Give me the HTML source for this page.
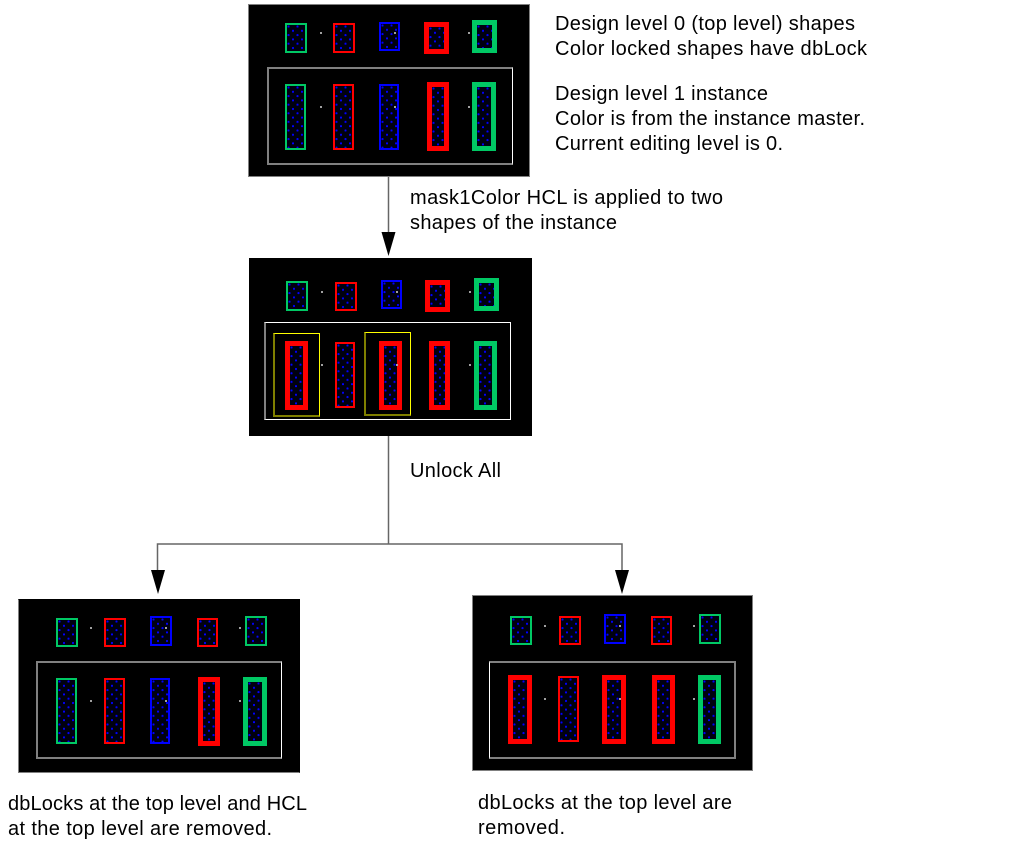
<!DOCTYPE html>
<html><head><meta charset="utf-8">
<style>
html,body{margin:0;padding:0;background:#fff}
#p{position:relative;width:1013px;height:857px;overflow:hidden;background:#fff}
.k{position:absolute;background:#000;box-sizing:border-box;border:1px solid #808080}
.r,.i,.d{position:absolute;box-sizing:border-box}
.r{border-style:solid;background-color:#000010;
background-image:radial-gradient(circle at 1.5px 1.5px,#00f 1px,transparent 1.2px),radial-gradient(circle at 6px 5.8px,#00f 1px,transparent 1.2px);
background-size:9px 8.6px}
.i{border-style:solid;border-width:2px 1px 2px 2px;background:transparent}
.d{width:2px;height:2px;background:#a0a0a0}
.g{border-color:#00c864}.e{border-color:#f00}.b{border-color:#00f}
.t{border-width:2px}.w{border-width:5px}
svg{position:absolute;left:0;top:0}
text{font-family:"Liberation Sans",sans-serif;font-size:20px;fill:#000}
</style></head><body><div id="p">

<div class="k" style="left:248px;top:4px;width:282px;height:173px"></div>
<div class="r g t" style="left:285px;top:23px;width:22px;height:30px"></div>
<div class="r e t" style="left:333px;top:23px;width:22px;height:30px"></div>
<div class="r b t" style="left:379px;top:22px;width:21px;height:29px"></div>
<div class="r e w" style="left:424px;top:22px;width:25px;height:32px"></div>
<div class="r g w" style="left:472px;top:20px;width:25px;height:33px"></div>
<div class="i" style="left:267px;top:67px;width:246px;height:98px;border-color:#808080 #fff #808080 #808080"></div>
<div class="r g t" style="left:285px;top:84px;width:21px;height:66px"></div>
<div class="r e t" style="left:333px;top:84px;width:21px;height:66px"></div>
<div class="r b t" style="left:379px;top:84px;width:20px;height:66px"></div>
<div class="r e w" style="left:427px;top:82px;width:22px;height:69px"></div>
<div class="r g w" style="left:472px;top:82px;width:24px;height:69px"></div>
<div class="d" style="left:320px;top:32px"></div><div class="d" style="left:394px;top:32px"></div><div class="d" style="left:468px;top:32px"></div>
<div class="d" style="left:320px;top:106px"></div><div class="d" style="left:394px;top:106px"></div><div class="d" style="left:468px;top:106px"></div>

<div class="k" style="left:249px;top:258px;width:283px;height:178px;border-color:#000"></div>
<div class="r g t" style="left:286px;top:281px;width:22px;height:30px"></div>
<div class="r e t" style="left:335px;top:282px;width:22px;height:29px"></div>
<div class="r b t" style="left:381px;top:280px;width:21px;height:29px"></div>
<div class="r e w" style="left:425px;top:280px;width:25px;height:32px"></div>
<div class="r g w" style="left:474px;top:278px;width:25px;height:33px"></div>
<div class="i" style="left:264px;top:322px;width:247px;height:98px;border-width:1px 1px 1px 2px;border-color:#fff #fff #fff #808080"></div>
<div class="i" style="left:273px;top:333px;width:47px;height:84px;border-width:1px 1px 2px 2px;border-color:#ff0 #ff0 #808000 #808000"></div>
<div class="i" style="left:364px;top:332px;width:47px;height:84px;border-width:1px 1px 2px 2px;border-color:#ff0 #ff0 #808000 #808000"></div>
<div class="r e w" style="left:285px;top:341px;width:23px;height:69px"></div>
<div class="r e t" style="left:335px;top:342px;width:20px;height:66px"></div>
<div class="r e w" style="left:379px;top:341px;width:23px;height:69px"></div>
<div class="r e w" style="left:429px;top:341px;width:21px;height:69px"></div>
<div class="r g w" style="left:474px;top:341px;width:23px;height:69px"></div>
<div class="d" style="left:321px;top:291px"></div><div class="d" style="left:396px;top:291px"></div><div class="d" style="left:469px;top:291px"></div>
<div class="d" style="left:321px;top:364px"></div><div class="d" style="left:396px;top:364px"></div><div class="d" style="left:469px;top:364px"></div>

<div class="k" style="left:18px;top:599px;width:282px;height:174px;border-color:#000 #000 #808080 #808080"></div>
<div class="r g t" style="left:56px;top:618px;width:22px;height:29px"></div>
<div class="r e t" style="left:104px;top:618px;width:22px;height:29px"></div>
<div class="r b t" style="left:150px;top:616px;width:22px;height:30px"></div>
<div class="r e t" style="left:197px;top:618px;width:21px;height:29px"></div>
<div class="r g t" style="left:245px;top:616px;width:22px;height:30px"></div>
<div class="i" style="left:36px;top:661px;width:246px;height:98px;border-color:#808080 #fff #808080 #808080"></div>
<div class="r g t" style="left:56px;top:678px;width:21px;height:66px"></div>
<div class="r e t" style="left:104px;top:678px;width:21px;height:66px"></div>
<div class="r b t" style="left:150px;top:678px;width:20px;height:66px"></div>
<div class="r e w" style="left:198px;top:677px;width:22px;height:69px"></div>
<div class="r g w" style="left:243px;top:677px;width:24px;height:69px"></div>
<div class="d" style="left:90px;top:627px"></div><div class="d" style="left:165px;top:627px"></div><div class="d" style="left:239px;top:627px"></div>
<div class="d" style="left:90px;top:700px"></div><div class="d" style="left:165px;top:700px"></div><div class="d" style="left:239px;top:700px"></div>

<div class="k" style="left:472px;top:595px;width:281px;height:176px"></div>
<div class="r g t" style="left:510px;top:616px;width:22px;height:29px"></div>
<div class="r e t" style="left:559px;top:616px;width:22px;height:29px"></div>
<div class="r b t" style="left:604px;top:614px;width:22px;height:30px"></div>
<div class="r e t" style="left:651px;top:616px;width:21px;height:29px"></div>
<div class="r g t" style="left:699px;top:614px;width:22px;height:30px"></div>
<div class="i" style="left:489px;top:661px;width:247px;height:98px;border-width:2px 2px 2px 1px;border-color:#808080 #808080 #808080 #fff"></div>
<div class="r e w" style="left:508px;top:675px;width:24px;height:69px"></div>
<div class="r e t" style="left:558px;top:676px;width:21px;height:66px"></div>
<div class="r e w" style="left:602px;top:675px;width:24px;height:69px"></div>
<div class="r e w" style="left:652px;top:675px;width:23px;height:69px"></div>
<div class="r g w" style="left:698px;top:675px;width:23px;height:69px"></div>
<div class="d" style="left:544px;top:625px"></div><div class="d" style="left:619px;top:625px"></div><div class="d" style="left:693px;top:625px"></div>
<div class="d" style="left:544px;top:698px"></div><div class="d" style="left:619px;top:698px"></div><div class="d" style="left:693px;top:698px"></div>

<svg width="1013" height="857" viewBox="0 0 1013 857">
<g fill="none" stroke="#666" stroke-width="1.5">
<path d="M388.5 177V234"/>
<path d="M388.5 436V544"/>
<path d="M157.5 572V544H622V572"/>
</g>
<g fill="#000">
<path d="M381.5 232H395.5L388.5 256Z"/>
<path d="M151 570H165L158 594Z"/>
<path d="M615 570H629L622 594Z"/>
</g>
<text x="555" y="30" textLength="300">Design level 0 (top level) shapes</text>
<text x="555" y="55" textLength="312">Color locked shapes have dbLock</text>
<text x="555" y="100" textLength="213">Design level 1 instance</text>
<text x="555" y="125" textLength="310">Color is from the instance master.</text>
<text x="555" y="150" textLength="228">Current editing level is 0.</text>
<text x="410" y="204" textLength="313">mask1Color HCL is applied to two</text>
<text x="410" y="229" textLength="207">shapes of the instance</text>
<text x="410" y="477" textLength="91">Unlock All</text>
<text x="8" y="810" textLength="299">dbLocks at the top level and HCL</text>
<text x="8" y="835" textLength="264">at the top level are removed.</text>
<text x="478" y="809" textLength="254">dbLocks at the top level are</text>
<text x="478" y="834" textLength="87">removed.</text>
</svg>
</div></body></html>
